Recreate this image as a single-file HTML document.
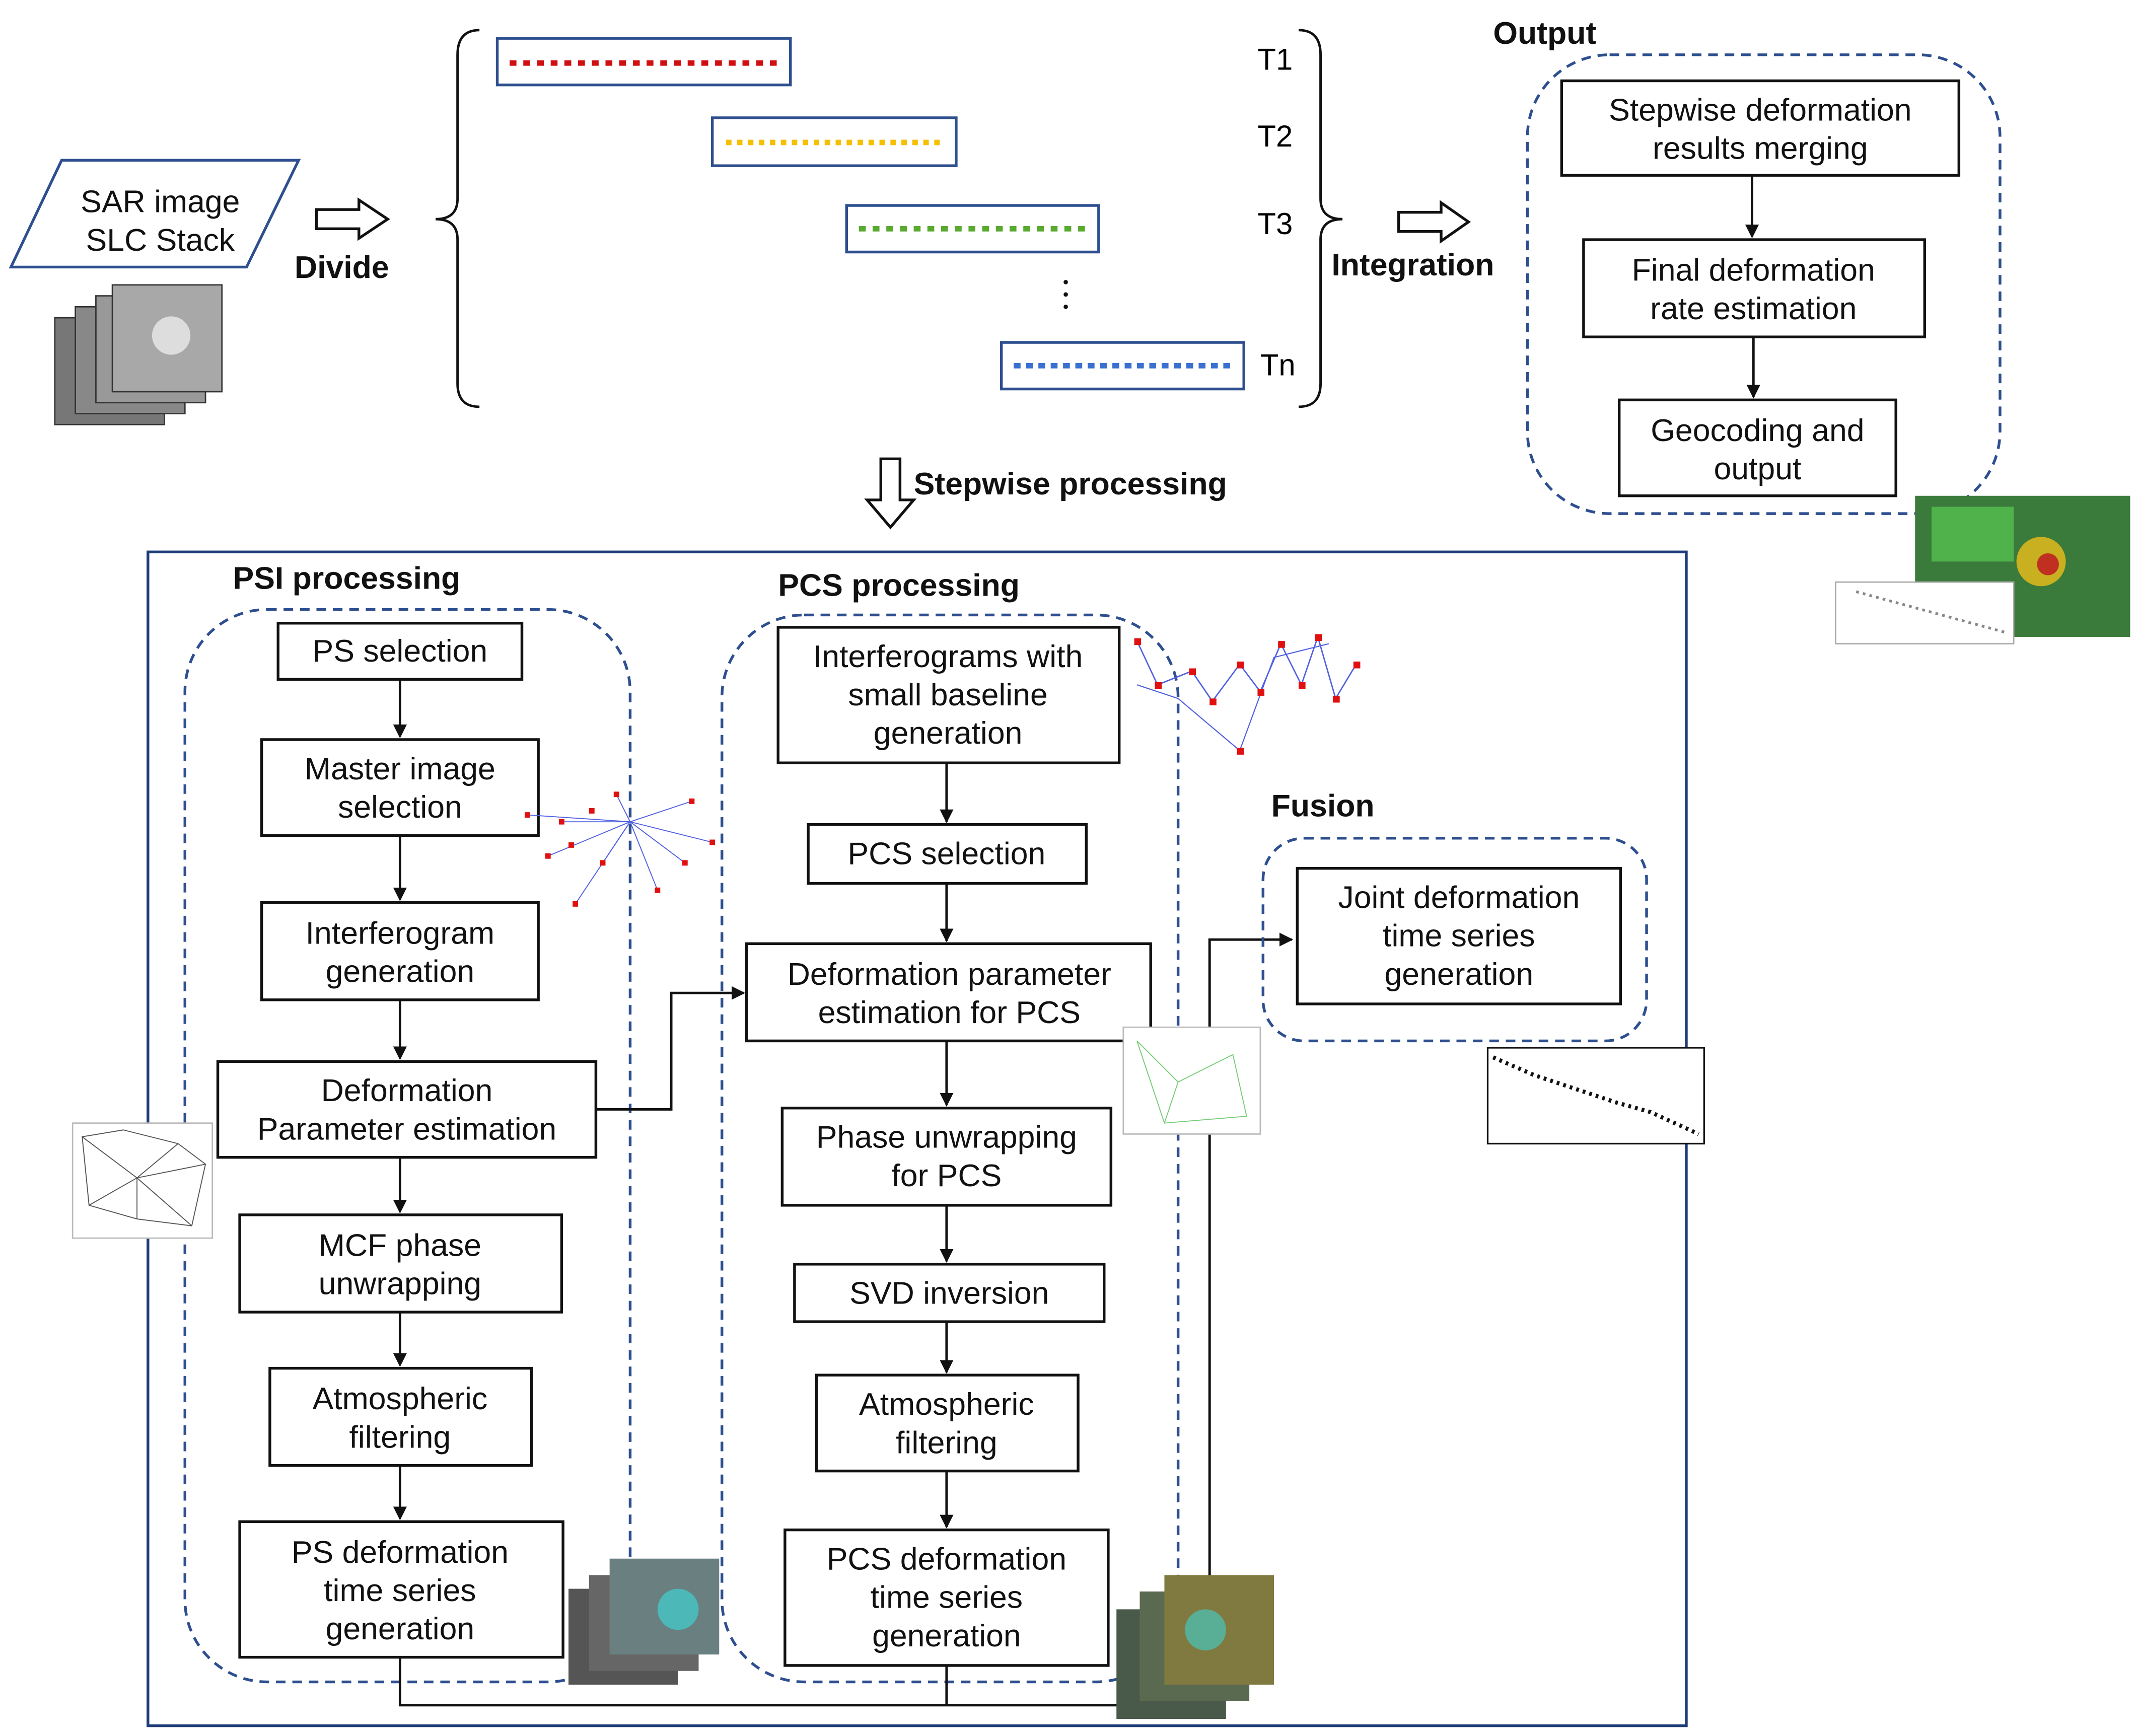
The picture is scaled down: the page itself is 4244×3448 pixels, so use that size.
<!DOCTYPE html>
<html><head><meta charset="utf-8"><style>
html,body{margin:0;padding:0;background:#fff;}
svg{display:block;}
text{font-family:"Liberation Sans","DejaVu Sans",sans-serif;}
.t{font-size:23px;fill:#111;text-anchor:middle;}
.b{font-size:23px;font-weight:bold;fill:#111;}
.box{fill:#fff;stroke:#111;stroke-width:2;}
.dash{fill:none;stroke:#2e4f8f;stroke-width:2;stroke-dasharray:7,5;}
.ln{stroke:#111;stroke-width:1.8;fill:none;}
</style></head><body>
<svg width="4244" height="3448" viewBox="0 0 1560 1267.5" preserveAspectRatio="none" xmlns="http://www.w3.org/2000/svg">
<defs>
<marker id="ar" markerWidth="10" markerHeight="10" refX="9" refY="5" orient="auto" markerUnits="userSpaceOnUse"><path d="M0,0 L10,5 L0,10 z" fill="#111"/></marker>
</defs>
<!-- SAR -->
<polygon points="8,195 45,117 218,117 180,195" fill="#fff" stroke="#2e4f8f" stroke-width="2"/>
<text class="t" x="117" y="155">SAR image</text>
<text class="t" x="117" y="183">SLC Stack</text>
<g>
<rect x="40" y="232" width="80" height="78" fill="#777" stroke="#333"/>
<rect x="55" y="224" width="80" height="78" fill="#888" stroke="#333"/>
<rect x="70" y="216" width="80" height="78" fill="#999" stroke="#333"/>
<rect x="82" y="208" width="80" height="78" fill="#a8a8a8" stroke="#333"/>
<circle cx="125" cy="245" r="14" fill="#ddd"/>
</g>
<!-- divide arrow -->
<polygon points="231,153 262,153 262,146 283,160 262,174 262,167 231,167" fill="#fff" stroke="#111" stroke-width="2"/>
<text class="b" x="215" y="203">Divide</text>
<!-- braces -->
<path d="M350,22 Q334,22 334,40 L334,145 Q334,160 318,160 Q334,160 334,175 L334,280 Q334,297 350,297" class="ln"/>
<path d="M948,22 Q964,22 964,40 L964,145 Q964,160 980,160 Q964,160 964,175 L964,280 Q964,297 948,297" class="ln"/>
<!-- bars -->
<rect x="363" y="28" width="214" height="34" fill="#fff" stroke="#2e4f8f" stroke-width="2"/>
<line x1="372" y1="46" x2="568" y2="46" stroke="#d01010" stroke-width="4" stroke-dasharray="5,5"/>
<rect x="520" y="86" width="178" height="35" fill="#fff" stroke="#2e4f8f" stroke-width="2"/>
<line x1="530" y1="104" x2="690" y2="104" stroke="#f5c000" stroke-width="4" stroke-dasharray="4,4"/>
<rect x="618" y="150" width="184" height="34" fill="#fff" stroke="#2e4f8f" stroke-width="2"/>
<line x1="627" y1="167" x2="795" y2="167" stroke="#5aaa30" stroke-width="4" stroke-dasharray="5,5"/>
<rect x="731" y="250" width="177" height="34" fill="#fff" stroke="#2e4f8f" stroke-width="2"/>
<line x1="740" y1="267" x2="900" y2="267" stroke="#3a70d0" stroke-width="4" stroke-dasharray="5,4"/>
<text x="918" y="51" style="font-size:22px">T1</text>
<text x="918" y="107" style="font-size:22px">T2</text>
<text x="918" y="171" style="font-size:22px">T3</text>
<text x="920" y="274" style="font-size:22px">Tn</text>
<circle cx="778" cy="206" r="1.6" fill="#111"/><circle cx="778" cy="215" r="1.6" fill="#111"/><circle cx="778" cy="224" r="1.6" fill="#111"/>
<!-- integration -->
<polygon points="1021,155 1052,155 1052,148 1072,162 1052,176 1052,169 1021,169" fill="#fff" stroke="#111" stroke-width="2"/>
<text class="b" x="972" y="201">Integration</text>
<!-- Output -->
<text class="b" x="1090" y="32">Output</text>
<rect x="1115" y="40" width="345" height="335" rx="60" class="dash"/>
<rect x="1140" y="59" width="290" height="69" class="box"/>
<text class="t" x="1285" y="88">Stepwise deformation</text><text class="t" x="1285" y="116">results merging</text>
<rect x="1156" y="175" width="249" height="71" class="box"/>
<text class="t" x="1280" y="205">Final deformation</text><text class="t" x="1280" y="233">rate estimation</text>
<rect x="1182" y="292" width="202" height="70" class="box"/>
<text class="t" x="1283" y="322">Geocoding and</text><text class="t" x="1283" y="350">output</text>
<line x1="1279" y1="128" x2="1279" y2="173" class="ln" marker-end="url(#ar)"/>
<line x1="1280" y1="246" x2="1280" y2="290" class="ln" marker-end="url(#ar)"/>
<!-- map -->
<rect x="1398" y="362" width="157" height="103" fill="#3a7a3a"/>
<rect x="1410" y="370" width="60" height="40" fill="#55c050" opacity=".8"/>
<circle cx="1490" cy="410" r="18" fill="#c8b020"/><circle cx="1495" cy="412" r="8" fill="#c03020"/>
<rect x="1340" y="425" width="130" height="45" fill="#fff" stroke="#aaa"/>
<line x1="1355" y1="432" x2="1465" y2="462" stroke="#888" stroke-width="2" stroke-dasharray="2,3"/>
<!-- stepwise -->
<polygon points="643,335 657,335 657,365 667,365 650,385 633,365 643,365" fill="#fff" stroke="#111" stroke-width="2"/>
<text class="b" x="667" y="361">Stepwise processing</text>
<!-- main rect -->
<rect x="108" y="403" width="1123" height="857" fill="none" stroke="#1e3c78" stroke-width="2"/>
<text class="b" x="170" y="430">PSI processing</text>
<rect x="135" y="445" width="325" height="783" rx="60" class="dash"/>
<text class="b" x="568" y="435">PCS processing</text>
<rect x="527" y="449" width="333" height="779" rx="60" class="dash"/>
<!-- PSI boxes -->
<rect x="203" y="455" width="178" height="41" class="box"/><text class="t" x="292" y="483">PS selection</text>
<rect x="191" y="540" width="202" height="70" class="box"/><text class="t" x="292" y="569">Master  image</text><text class="t" x="292" y="597">selection</text>
<rect x="191" y="659" width="202" height="71" class="box"/><text class="t" x="292" y="689">Interferogram</text><text class="t" x="292" y="717">generation</text>
<rect x="159" y="775" width="276" height="70" class="box"/><text class="t" x="297" y="804">Deformation</text><text class="t" x="297" y="832">Parameter estimation</text>
<rect x="175" y="887" width="235" height="71" class="box"/><text class="t" x="292" y="917">MCF phase</text><text class="t" x="292" y="945">unwrapping</text>
<rect x="197" y="999" width="191" height="71" class="box"/><text class="t" x="292" y="1029">Atmospheric</text><text class="t" x="292" y="1057">filtering</text>
<rect x="175" y="1111" width="236" height="99" class="box"/><text class="t" x="292" y="1141">PS deformation</text><text class="t" x="292" y="1169">time series</text><text class="t" x="292" y="1197">generation</text>
<g class="ln">
<line x1="292" y1="496" x2="292" y2="538" marker-end="url(#ar)"/>
<line x1="292" y1="610" x2="292" y2="657" marker-end="url(#ar)"/>
<line x1="292" y1="730" x2="292" y2="773" marker-end="url(#ar)"/>
<line x1="292" y1="845" x2="292" y2="885" marker-end="url(#ar)"/>
<line x1="292" y1="958" x2="292" y2="997" marker-end="url(#ar)"/>
<line x1="292" y1="1070" x2="292" y2="1109" marker-end="url(#ar)"/>
</g>
<!-- PCS boxes -->
<rect x="568" y="458" width="249" height="99" class="box"/><text class="t" x="692" y="487">Interferograms with</text><text class="t" x="692" y="515">small baseline</text><text class="t" x="692" y="543">generation</text>
<rect x="590" y="602" width="203" height="43" class="box"/><text class="t" x="691" y="631">PCS selection</text>
<rect x="545" y="689" width="295" height="71" class="box"/><text class="t" x="693" y="719">Deformation parameter</text><text class="t" x="693" y="747">estimation for PCS</text>
<rect x="571" y="809" width="240" height="71" class="box"/><text class="t" x="691" y="838">Phase unwrapping</text><text class="t" x="691" y="866">for PCS</text>
<rect x="580" y="923" width="226" height="42" class="box"/><text class="t" x="693" y="952">SVD inversion</text>
<rect x="596" y="1004" width="191" height="70" class="box"/><text class="t" x="691" y="1033">Atmospheric</text><text class="t" x="691" y="1061">filtering</text>
<rect x="573" y="1117" width="236" height="99" class="box"/><text class="t" x="691" y="1146">PCS deformation</text><text class="t" x="691" y="1174">time series</text><text class="t" x="691" y="1202">generation</text>
<g class="ln">
<line x1="691" y1="557" x2="691" y2="600" marker-end="url(#ar)"/>
<line x1="691" y1="645" x2="691" y2="687" marker-end="url(#ar)"/>
<line x1="691" y1="760" x2="691" y2="807" marker-end="url(#ar)"/>
<line x1="691" y1="880" x2="691" y2="921" marker-end="url(#ar)"/>
<line x1="691" y1="965" x2="691" y2="1002" marker-end="url(#ar)"/>
<line x1="691" y1="1074" x2="691" y2="1115" marker-end="url(#ar)"/>
<polyline points="435,810 490,810 490,725 543,725" marker-end="url(#ar)"/>
<polyline points="292,1210 292,1245 883,1245"/>
<line x1="691" y1="1216" x2="691" y2="1245"/>
<polyline points="883,1245 883,686 943,686" marker-end="url(#ar)"/>
</g>
<!-- Fusion -->
<text class="b" x="928" y="596">Fusion</text>
<rect x="922" y="612" width="280" height="148" rx="30" class="dash"/>
<rect x="947" y="634" width="236" height="99" class="box"/><text class="t" x="1065" y="663">Joint deformation</text><text class="t" x="1065" y="691">time series</text><text class="t" x="1065" y="719">generation</text>
<rect x="1086" y="765" width="158" height="70" fill="#fff" stroke="#111" stroke-width="1.2"/>
<path d="M1090,772 L1120,785 L1150,795 L1180,805 L1205,812 L1240,828" stroke="#111" stroke-width="3" stroke-dasharray="2,3" fill="none"/>
<!-- star network -->
<g stroke="#5060e0" stroke-width=".7">
<line x1="460" y1="600" x2="385" y2="595"/><line x1="460" y1="600" x2="400" y2="625"/><line x1="460" y1="600" x2="420" y2="660"/><line x1="460" y1="600" x2="450" y2="580"/><line x1="460" y1="600" x2="505" y2="585"/><line x1="460" y1="600" x2="520" y2="615"/><line x1="460" y1="600" x2="480" y2="650"/><line x1="460" y1="600" x2="440" y2="630"/><line x1="460" y1="600" x2="500" y2="630"/><line x1="460" y1="600" x2="410" y2="600"/>
</g>
<g fill="#e01010">
<rect x="383" y="593" width="4" height="4"/><rect x="398" y="623" width="4" height="4"/><rect x="418" y="658" width="4" height="4"/><rect x="448" y="578" width="4" height="4"/><rect x="503" y="583" width="4" height="4"/><rect x="518" y="613" width="4" height="4"/><rect x="478" y="648" width="4" height="4"/><rect x="438" y="628" width="4" height="4"/><rect x="498" y="628" width="4" height="4"/><rect x="408" y="598" width="4" height="4"/><rect x="430" y="590" width="4" height="4"/><rect x="415" y="615" width="4" height="4"/>
</g>
<!-- top-right network -->
<polyline points="830,468 845,500 870,490 885,512 905,485 920,505 935,470 950,500 962,465 975,510 990,485" stroke="#5060e0" stroke-width="1" fill="none"/>
<polyline points="830,500 860,510 905,548 930,480 970,470" stroke="#5060e0" stroke-width=".8" fill="none"/>
<g fill="#e01010"><rect x="828" y="466" width="5" height="5"/><rect x="843" y="498" width="5" height="5"/><rect x="868" y="488" width="5" height="5"/><rect x="883" y="510" width="5" height="5"/><rect x="903" y="483" width="5" height="5"/><rect x="918" y="503" width="5" height="5"/><rect x="933" y="468" width="5" height="5"/><rect x="948" y="498" width="5" height="5"/><rect x="960" y="463" width="5" height="5"/><rect x="973" y="508" width="5" height="5"/><rect x="988" y="483" width="5" height="5"/><rect x="903" y="546" width="5" height="5"/></g>
<!-- pcs network -->
<rect x="820" y="750" width="100" height="78" fill="#fff" stroke="#bbb"/>
<path d="M830,760 L860,790 L900,770 L910,815 L850,820 L830,760 M860,790 L850,820" stroke="#7c7" stroke-width=".7" fill="none"/>
<!-- delaunay -->
<rect x="53" y="820" width="102" height="84" fill="#fff" stroke="#bbb"/>
<path d="M60,830 L90,825 L130,835 L150,850 L140,895 L100,890 L65,880 L60,830 L100,860 L130,835 M100,860 L100,890 M100,860 L140,895 M65,880 L100,860 L150,850" stroke="#555" stroke-width=".7" fill="none"/>
<!-- stacks -->
<g><rect x="415" y="1160" width="80" height="70" fill="#555"/><rect x="430" y="1150" width="80" height="70" fill="#666"/><rect x="445" y="1138" width="80" height="70" fill="#6a8080"/><circle cx="495" cy="1175" r="15" fill="#40d0d0" opacity=".7"/></g>
<g><rect x="815" y="1175" width="80" height="80" fill="#4a5a4a"/><rect x="832" y="1162" width="80" height="80" fill="#5a6a50"/><rect x="850" y="1150" width="80" height="80" fill="#807a40"/><circle cx="880" cy="1190" r="15" fill="#40d0d0" opacity=".6"/></g>
</svg>
</body></html>
